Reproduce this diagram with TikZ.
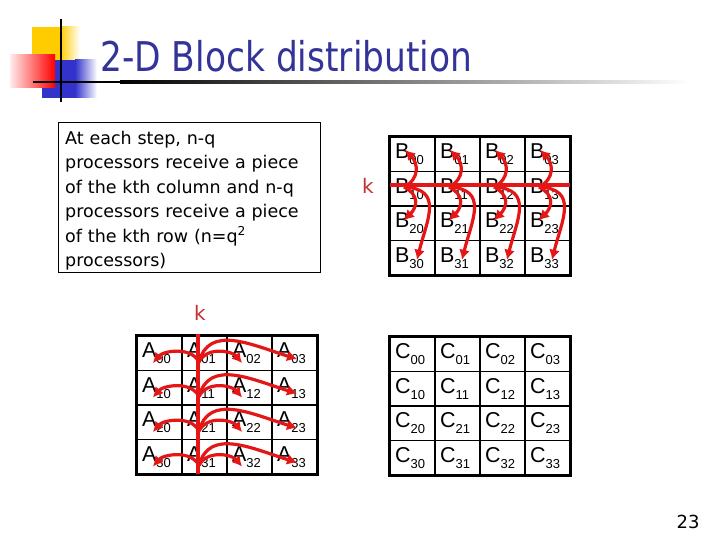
\documentclass[tikz,border=0pt]{standalone}
\usepackage{fontspec}
\usepackage{tikz}
\usetikzlibrary{arrows.meta}
\newfontfamily\tahoma{DejaVu Sans}
\newfontfamily\cellfont{Liberation Sans}
\definecolor{titleblue}{RGB}{51,51,153}
\definecolor{arrred}{RGB}{228,22,22}
\definecolor{kred}{RGB}{196,48,48}
\definecolor{logoyellow}{RGB}{255,204,0}
\definecolor{logoblue}{RGB}{51,51,204}
\newcommand{\lowidx}[1]{\raisebox{-6pt}{\fontsize{13}{13}\selectfont #1}}

\begin{document}
\begin{tikzpicture}[x=1pt,y=-1pt,
    cell/.style={draw=black,line width=1.8pt,minimum width=45pt,minimum height=34.5pt,inner xsep=5pt,inner ysep=0pt,
        text width=35pt,align=left,text height=15pt,text depth=6pt,font=\cellfont\fontsize{21.5}{21.5}\selectfont},
    frame/.style={draw=black,line width=3pt},
    arr/.style={draw=arrred,line width=3.2pt,-{Latex[length=10pt,width=11pt]}},
    redline/.style={draw=arrred,line width=4pt},
    klabel/.style={text=kred,font=\tahoma\fontsize{20}{20}\selectfont,inner sep=0pt}]
    \useasboundingbox (0,0) rectangle (720,540);

    % logo
    \fill[logoyellow] (32,27) rectangle (60,60);
    \shade[left color=logoyellow,right color=white] (60,27) rectangle (80,60);
    \fill[logoblue] (42,60) rectangle (75,98);
    \shade[left color=logoblue,right color=white] (75,60) rectangle (97,98);
    \shade[left color=red!8,right color=red] (10,55) rectangle (55,88);
    \fill[black] (33,80.8) rectangle (120,83.2);
    \shade[left color=black,right color=white] (120,80.8) rectangle (690,83.2);
    \draw[black,line width=2pt] (61,19) -- (61,102);

    \node[anchor=base west,inner sep=0pt,text=titleblue,font=\tahoma\fontsize{41}{41}\selectfont] (title) at (100,72)
        {\scalebox{0.84}[1]{2-D Block distribution}};

    % text box
    \node[draw=black,thin,anchor=north west,inner sep=0pt,minimum width=262pt,minimum height=150pt] (info) at (58,122) {};
    \node[anchor=north west,inner sep=0pt,text width=250pt,align=left,
        font=\tahoma\fontsize{17.5}{24.5}\selectfont] (infotext) at (65,130.7)
        {At each step, n-q\\processors receive a piece\\of the kth column and n-q\\processors receive a piece\\of the kth row (n=q\textsuperscript{2}\\processors)};

    % B blocks
    \foreach \r in {0,...,3}
        \foreach \c in {0,...,3}
            \node[cell] (b\r\c) at ({412.5+45*\c},{154.25+34.5*\r}) {B\lowidx{\r\c}};
    \draw[frame] (b00.north west) rectangle (b33.south east);

    % A blocks
    \foreach \r in {0,...,3}
        \foreach \c in {0,...,3}
            \node[cell] (a\r\c) at ({159.5+45*\c},{353.25+34.5*\r}) {A\lowidx{\r\c}};
    \draw[frame] (a00.north west) rectangle (a33.south east);

    % C blocks
    \foreach \r in {0,...,3}
        \foreach \c in {0,...,3}
            \node[cell] (c\r\c) at ({412.5+45*\c},{354.25+34.5*\r}) {C\lowidx{\r\c}};
    \draw[frame] (c00.north west) rectangle (c33.south east);

    % kth row of B
    \node[klabel] (kb) at (368,186) {k};
    \coordinate (kb1) at (390,185);
    \coordinate (kb2) at (570,185);
    \path[redline] (kb1) -- (kb2);
    \foreach \c in {0,...,3} {
        \coordinate (bs\c) at ({404+45*\c},187);
        \path[arr] (bs\c) .. controls +(16,-8) and +(13,13) .. ([shift={(-7.5,-4.25)}]b0\c.center);
        \path[arr] (bs\c) .. controls +(16,8) and +(13,-13) .. ([shift={(-8.5,-3)}]b2\c.center);
        \path[arr] (bs\c) .. controls +(40,2) and +(10,-40) .. ([shift={(4.5,2)}]b3\c.center);
    }

    % kth column of A
    \node[klabel] (ka) at (200,313) {k};
    \coordinate (ka1) at (198,334);
    \coordinate (ka2) at (198,474);
    \path[redline] (ka1) -- (ka2);
    \foreach \r in {0,...,3} {
        \coordinate (as\r) at (199,{362+34.5*\r});
        \path[arr] (as\r) .. controls +(-8,-16) and +(10,-12) .. ([shift={(-6.5,9.75)}]a\r0.center);
        \path[arr] (as\r) .. controls +(8,-16) and +(-10,-12) .. ([shift={(-7.5,9.75)}]a\r2.center);
        \path[arr] (as\r) .. controls +(10,-38) and +(-45,-14) .. ([shift={(2.5,5.75)}]a\r3.center);
    }

    \node[inner sep=0pt,font=\tahoma\fontsize{18}{18}\selectfont] (pagenum) at (688,522) {23};
\end{tikzpicture}
\end{document}
